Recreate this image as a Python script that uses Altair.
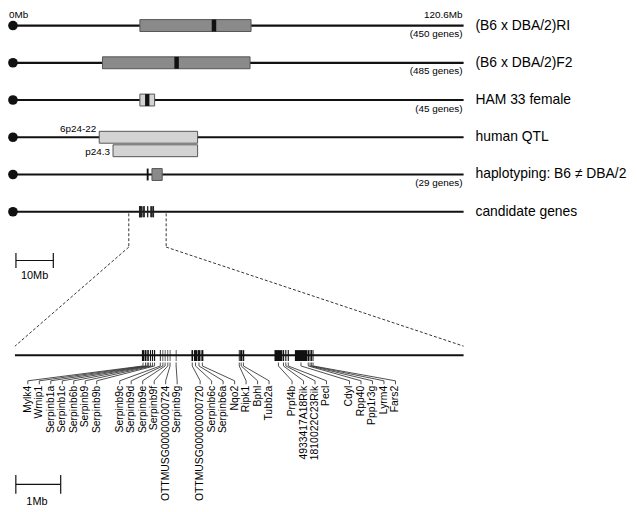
import altair as alt
import pandas as pd

# ------------------------------------------------------------------ data
CHR_LEN = 120.6                      # Mb, chromosome length
ZOOM_WIN = [31.0, 41.0]              # Mb window shown enlarged below

tracks = ["(B6 x DBA/2)RI", "(B6 x DBA/2)F2", "HAM 33 female", "human QTL",
          "haplotyping: B6 \u2260 DBA/2", "candidate genes"]
gene_counts = ["(450 genes)", "(485 genes)", "(45 genes)", "", "(29 genes)", ""]

# interval boxes (Mb)
box_track = [0, 1, 2, 3, 3, 4]
box_start = [33.97, 23.96, 33.97, 23.09, 26.78, 37.20]
box_end = [63.72, 63.45, 37.91, 49.42, 49.42, 39.94]
box_lane = [0, 0, 0, 0, 1, 0]
box_shade = ["mid", "mid", "light", "light", "light", "mid"]
box_label = ["", "", "", "6p24-22", "p24.3", ""]

# black peak markers (Mb)
band_track = [0, 1, 2, 4]
band_start = [53.2, 43.2, 35.36, 35.8]
band_end = [54.4, 44.4, 36.52, 36.3]

# candidate genes (Mb)
gene_names = ["Mylk4", "Wrnip1", "Serpinb1a", "Serpinb1c", "Serpinb6b", "Serpinb9", "Serpinb9b",
              "Serpinb9c", "Serpinb9d", "Serpinb9e", "Serpinb9f", "OTTMUSG00000000724", "Serpinb9g",
              "OTTMUSG00000000720", "Serpinb6c", "Serpinb6a", "Nqo2", "Ripk1", "Bphl", "Tubb2a",
              "Prpf4b", "4933417A18Rik", "1810022C23Rik", "Pecl",
              "Cdyl", "Rpp40", "Ppp1r3g", "Lyrm4", "Fars2"]
gene_start = [33.83, 33.89, 33.94, 33.97, 34.01, 34.055, 34.10,
              34.23, 34.29, 34.34, 34.40, 34.45, 34.585,
              34.935, 34.99, 35.07, 35.155, 35.99, 36.02, 36.075,
              36.785, 36.97, 37.025, 37.08,
              37.24, 37.52, 37.565, 37.60, 37.635]
gene_end = [33.88, 33.93, 33.96, 33.99, 34.035, 34.08, 34.125,
            34.25, 34.305, 34.355, 34.415, 34.465, 34.60,
            34.97, 35.06, 35.135, 35.20, 36.01, 36.065, 36.11,
            36.96, 37.0, 37.05, 37.105,
            37.51, 37.555, 37.59, 37.625, 37.655]
gene_group = [0] * 7 + [1] * 6 + [2] * 7 + [3] * 4 + [4] * 5

TOP_BAR_MB = [0.8, 10.8]     # 10 Mb scale bar
BOT_BAR_MB = [31.02, 32.02]  # 1 Mb scale bar

# ------------------------------------------------------------------ layout
W, H = 627, 500
PX0, PX1 = 5.0, 460.0
UPX = CHR_LEN / (PX1 - PX0)          # axis units per pixel


def px(p):
    return (p - PX0) * UPX


Z0 = px(7.0)
ZK = (CHR_LEN - Z0) / (ZOOM_WIN[1] - ZOOM_WIN[0])


def zexpr(field):
    return f"({Z0} + (datum.{field} - {ZOOM_WIN[0]}) * {ZK})"


SLOT0 = px(20.0)
SLOT_STEP = 11.6 * UPX
SLOT_EXPR = f"({SLOT0} + datum.slot * {SLOT_STEP})"
ROW0, ROW_STEP, LANE_STEP, HALF = 15.3, 37.6, 13.6, 6.0
row_y = [ROW0 + ROW_STEP * i for i in range(len(tracks))]
FONT = "Liberation Sans"
INK = "#000000"

xs = alt.Scale(domain=[0, CHR_LEN], range=[PX0, PX1])
ys = alt.Scale(domain=[0, H], range=[0, H])


def X(f):
    return alt.X(f"{f}:Q", scale=xs, axis=None)


def Y(f):
    return alt.Y(f"{f}:Q", scale=ys, axis=None)


# ------------------------------------------------------------------ tables
track_df = pd.DataFrame({"track": tracks, "count": gene_counts, "y": row_y,
                         "x0": 0.0, "x1": CHR_LEN})
track_df["yc"] = track_df["y"] + 8.6

box_df = pd.DataFrame({"start": box_start, "end": box_end, "shade": box_shade,
                       "label": box_label,
                       "yc": [row_y[t] + LANE_STEP * l for t, l in zip(box_track, box_lane)],
                       "lane": box_lane})
box_df["y0"] = box_df["yc"] - HALF
box_df["y1"] = box_df["yc"] + HALF
box_df["ly"] = box_df["yc"] + box_df["lane"].map({0: -8.0, 1: 1.5})

band_df = pd.DataFrame({"start": band_start, "end": band_end,
                        "yc": [row_y[t] for t in band_track]})
band_df["y0"] = band_df["yc"] - HALF
band_df["y1"] = band_df["yc"] + HALF

genes = pd.DataFrame({"gene": gene_names, "start": gene_start, "end": gene_end,
                      "group": gene_group})
genes["mid"] = (genes["start"] + genes["end"]) / 2
genes["slot"] = list(range(len(genes)))
genes["slot"] = genes["slot"] + genes["group"]
genes["ty0"] = row_y[5] - 5.5
genes["ty1"] = row_y[5] + 5.5
genes["by0"] = 343.0
genes["by1"] = 354.0
genes["ly"] = 379.0

# connector segments: 0 = short drop at gene, 1 = diagonal, 2 = short drop at label
CY = [355.5, 359.0, 374.0, 377.5]
seg_rows = []
for _, g in genes.iterrows():
    for seg in range(3):
        seg_rows.append({"gene": g["gene"], "seg": seg, "mid": float(g["mid"]),
                         "slot": float(g["slot"]), "ya": CY[seg], "yb": CY[seg + 1]})
seg_df = pd.DataFrame(seg_rows)

dash_rows = []
for side, mb in zip(["L", "R"], ZOOM_WIN):
    dash_rows.append({"side": side, "seg": 0, "mb": mb, "ya": 205.0, "yb": 239.0})
    dash_rows.append({"side": side, "seg": 1, "mb": mb, "ya": 239.0, "yb": 339.0})
dash_df = pd.DataFrame(dash_rows)

top_bar = pd.DataFrame({"x": [TOP_BAR_MB[0], TOP_BAR_MB[0], TOP_BAR_MB[1]],
                        "x2": [TOP_BAR_MB[1], TOP_BAR_MB[0], TOP_BAR_MB[1]],
                        "y": [252.5, 245.0, 245.0], "y2": [252.5, 260.0, 260.0]})
bot_bar = pd.DataFrame({"a": [BOT_BAR_MB[0], BOT_BAR_MB[0], BOT_BAR_MB[1]],
                        "b": [BOT_BAR_MB[1], BOT_BAR_MB[0], BOT_BAR_MB[1]],
                        "y": [478.5, 469.0, 469.0], "y2": [478.5, 488.0, 488.0]})
bar_labels = pd.DataFrame({"t": ["10Mb"], "x": [sum(TOP_BAR_MB) / 2], "y": [268.5]})
bot_label = pd.DataFrame({"t": ["1Mb"], "a": [sum(BOT_BAR_MB) / 2 - 0.03], "y": [496.0]})
end_labels = pd.DataFrame({"t": ["0Mb", "120.6Mb"], "x": [0.0, CHR_LEN], "y": [0.0, 0.0]})
zoom_line = pd.DataFrame({"a": [ZOOM_WIN[0]], "b": [ZOOM_WIN[1]], "y": [348.3]})

# ------------------------------------------------------------------ layers
lines = alt.Chart(track_df).mark_rule(color="#111", strokeWidth=2.2).encode(
    x=X("x0"), x2="x1:Q", y=Y("y"))
dots = alt.Chart(track_df).mark_circle(size=95, color="#111", opacity=1).encode(
    x=X("x0"), y=Y("y"))
boxes = alt.Chart(box_df).mark_rect(stroke="#555", strokeWidth=1).encode(
    x=X("start"), x2="end:Q", y=Y("y0"), y2="y1:Q",
    color=alt.Color("shade:N", scale=alt.Scale(domain=["mid", "light"],
                                               range=["#8a8a8a", "#d3d3d3"]), legend=None))
bands = alt.Chart(band_df).mark_rect(color="#111").encode(
    x=X("start"), x2="end:Q", y=Y("y0"), y2="y1:Q")
box_text = alt.Chart(box_df[box_df["label"] != ""]).mark_text(
    align="right", baseline="middle", fontSize=10, font=FONT, dx=-3, fill=INK).encode(
    x=X("start"), y=Y("ly"), text="label:N")
top_genes = alt.Chart(genes).mark_rule(color="#222", strokeWidth=1, opacity=0.8).encode(
    x=X("mid"), y=Y("ty0"), y2="ty1:Q")
counts = alt.Chart(track_df[track_df["count"] != ""]).mark_text(
    align="right", baseline="middle", fontSize=10, font=FONT, dx=-1, fill=INK).encode(
    x=X("x1"), y=Y("yc"), text="count:N")
names = alt.Chart(track_df).mark_text(
    align="left", baseline="middle", fontSize=14, font=FONT, dx=12, fill=INK).encode(
    x=X("x1"), y=Y("y"), text="track:N")
end0 = alt.Chart(end_labels.iloc[[0]]).mark_text(
    align="left", baseline="top", fontSize=10, font=FONT, fill=INK, dx=-4).encode(
    x=X("x"), y=Y("y"), text="t:N")
end1 = alt.Chart(end_labels.iloc[[1]]).mark_text(
    align="right", baseline="top", fontSize=10, font=FONT, fill=INK, dx=-1).encode(
    x=X("x"), y=Y("y"), text="t:N")

dashes = alt.Chart(dash_df).transform_calculate(
    xa="datum.mb",
    xb=f"datum.seg == 0 ? datum.mb : {zexpr('mb')}").mark_rule(
    color="#333", strokeWidth=1, strokeDash=[3, 2]).encode(
    x=X("xa"), x2="xb:Q", y=Y("ya"), y2="yb:Q")

tbar = alt.Chart(top_bar).mark_rule(color="#111", strokeWidth=1.2).encode(
    x=X("x"), x2="x2:Q", y=Y("y"), y2="y2:Q")
tbar_t = alt.Chart(bar_labels).mark_text(
    align="center", baseline="middle", fontSize=11, font=FONT, fill=INK).encode(
    x=X("x"), y=Y("y"), text="t:N")

zline = alt.Chart(zoom_line).transform_calculate(
    xa=zexpr("a"), xb=zexpr("b")).mark_rule(color="#111", strokeWidth=2).encode(
    x=X("xa"), x2="xb:Q", y=Y("y"))
bgenes = alt.Chart(genes).transform_calculate(
    xa=zexpr("start"), xb=zexpr("end")).mark_rect(color="#111").encode(
    x=X("xa"), x2="xb:Q", y=Y("by0"), y2="by1:Q")
conns = alt.Chart(seg_df).transform_calculate(
    xa=f"datum.seg == 2 ? {SLOT_EXPR} : {zexpr('mid')}",
    xb=f"datum.seg == 0 ? {zexpr('mid')} : {SLOT_EXPR}").mark_rule(
    color="#3a3a3a", strokeWidth=0.9).encode(
    x=X("xa"), x2="xb:Q", y=Y("ya"), y2="yb:Q")
glabels = alt.Chart(genes).transform_calculate(
    xx=SLOT_EXPR).mark_text(
    align="right", baseline="middle", angle=270, fontSize=10.5, font=FONT, fill=INK).encode(
    x=X("xx"), y=Y("ly"), text="gene:N")
bbar = alt.Chart(bot_bar).transform_calculate(
    xa=zexpr("a"), xb=zexpr("b")).mark_rule(color="#111", strokeWidth=1.2).encode(
    x=X("xa"), x2="xb:Q", y=Y("y"), y2="y2:Q")
bbar_t = alt.Chart(bot_label).transform_calculate(
    xa=zexpr("a")).mark_text(
    align="center", baseline="middle", fontSize=11, font=FONT, fill=INK).encode(
    x=X("xa"), y=Y("y"), text="t:N")

chart = alt.layer(
    dashes, lines, dots, boxes, bands, box_text, top_genes, counts, names, end0, end1,
    tbar, tbar_t, zline, bgenes, conns, glabels, bbar, bbar_t
).properties(
    width=W, height=H, padding=0,
    autosize=alt.AutoSizeParams(type="none"),
).configure_view(stroke=None)

chart.save("out.html", embed_options={"renderer": "svg", "actions": False})
